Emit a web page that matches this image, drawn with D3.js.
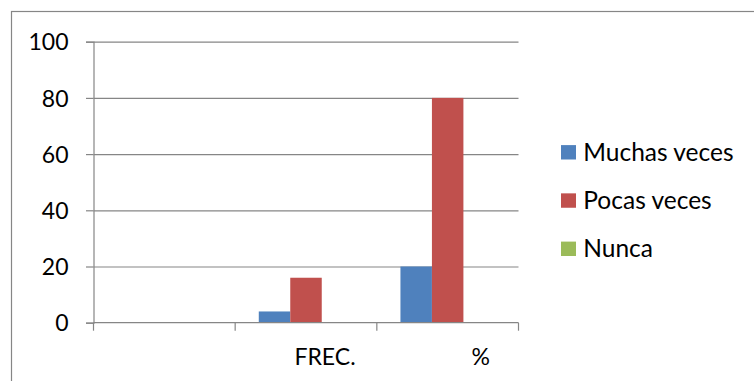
<!DOCTYPE html>
<html>
<head>
<meta charset="utf-8">
<script src="https://cdn.jsdelivr.net/npm/d3@7"></script>
<style>
  html, body { margin: 0; padding: 0; background: #fff; overflow: hidden; }
  svg { display: block; }
  text { font-family: Lato, "Open Sans", sans-serif; fill: #000; }
</style>
</head>
<body>
<svg id="chart" width="754" height="381"></svg>
<script>
// Categories along the x axis (first slot is blank)
const categories = ["", "FREC.", "%"];
// Series names and their values per category
const seriesNames = ["Muchas veces", "Pocas veces", "Nunca"];
const muchasVeces = [0, 4, 20];
const pocasVeces  = [0, 16, 80];
const nunca       = [0, 0, 0];
// Y axis tick values
const yTicks = [0, 20, 40, 60, 80, 100];

const seriesValues = [muchasVeces, pocasVeces, nunca];
const colors = ["#4F81BD", "#C0504D", "#9BBB59"];
const gridColor = "#868686";
const fontSize = 23;
const legendFontSize = 24.5;

const svg = d3.select("#chart");

// Outer chart frame
svg.append("rect")
  .attr("x", 11.5).attr("y", 11.5)
  .attr("width", 800).attr("height", 400)
  .attr("fill", "#fff")
  .attr("stroke", gridColor).attr("stroke-width", 1.2);

const plot = { left: 93.5, right: 518.5, top: 41.7, bottom: 322.7 };

const x = d3.scaleBand()
  .domain(categories)
  .range([plot.left, plot.right])
  .paddingInner(0).paddingOuter(0);

const xSeries = d3.scaleBand()
  .domain(seriesNames)
  .range([0, x.bandwidth()])
  .paddingInner(0).paddingOuter(0.75);

const y = d3.scaleLinear()
  .domain([0, 100])
  .range([plot.bottom, plot.top]);

// Horizontal gridlines and y tick marks
const yAxis = d3.axisLeft(y)
  .tickValues(yTicks)
  .tickSize(7.5)
  .tickPadding(17.5)
  .tickFormat(d3.format("d"));

const yG = svg.append("g")
  .attr("transform", `translate(${plot.left},0)`)
  .call(yAxis);
yG.select(".domain").attr("stroke", gridColor).attr("stroke-width", 1.2);
yG.selectAll(".tick line").attr("stroke", gridColor).attr("stroke-width", 1.2);
yG.selectAll(".tick text")
  .attr("font-size", fontSize)
  .attr("font-family", "Lato, sans-serif")
  .attr("dy", "0.36em")
  .attr("fill", "#000");
yG.selectAll(".tick")
  .filter(d => d !== 0)
  .append("line")
  .attr("x1", 0).attr("x2", plot.right - plot.left)
  .attr("stroke", gridColor).attr("stroke-width", 1.2);

// Bars
const groups = svg.append("g").selectAll("g")
  .data(categories)
  .join("g")
  .attr("transform", c => `translate(${x(c)},0)`);

groups.selectAll("rect")
  .data((c, ci) => seriesNames.map((s, si) => ({ s, v: seriesValues[si][ci], color: colors[si] })))
  .join("rect")
  .attr("x", d => xSeries(d.s))
  .attr("width", xSeries.bandwidth())
  .attr("y", d => y(d.v))
  .attr("height", d => y(0) - y(d.v))
  .attr("fill", d => d.color);

// X axis line with ticks on band boundaries
const xG = svg.append("g");
xG.append("line")
  .attr("x1", plot.left).attr("x2", plot.right)
  .attr("y1", y(0)).attr("y2", y(0))
  .attr("stroke", gridColor).attr("stroke-width", 1.2);
const boundaries = categories.map(c => x(c)).concat([x(categories[categories.length - 1]) + x.bandwidth()]);
xG.selectAll("line.tick")
  .data(boundaries)
  .join("line")
  .attr("class", "tick")
  .attr("x1", d => d).attr("x2", d => d)
  .attr("y1", y(0)).attr("y2", y(0) + 8)
  .attr("stroke", gridColor).attr("stroke-width", 1.2);

// Category labels (shifted right within their slot)
const labelShift = { "FREC.": 19, "%": 33 };
xG.selectAll("text")
  .data(categories.filter(c => c !== ""))
  .join("text")
  .attr("x", c => x(c) + x.bandwidth() / 2 + (labelShift[c] || 0))
  .attr("y", 365)
  .attr("text-anchor", "middle")
  .attr("font-size", fontSize)
  .text(c => c);

// Legend
const legendY = d3.scalePoint()
  .domain(seriesNames)
  .range([152.3, 248.8]);

const legend = svg.append("g").selectAll("g")
  .data(seriesNames)
  .join("g")
  .attr("transform", s => `translate(561,${legendY(s)})`);

legend.append("rect")
  .attr("x", 0).attr("y", -7.2)
  .attr("width", 15).attr("height", 14.4)
  .attr("fill", (s, i) => colors[i]);

legend.append("text")
  .attr("x", 22.3)
  .attr("y", 0)
  .attr("dy", "0.34em")
  .attr("font-size", legendFontSize)
  .text(s => s);
</script>
</body>
</html>
